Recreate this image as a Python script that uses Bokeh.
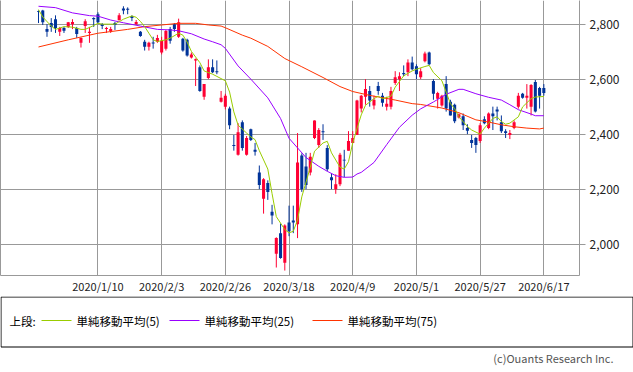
from bokeh.plotting import figure
from bokeh.models import (LinearAxis, FixedTicker, NumeralTickFormatter, Range1d,
                          ColumnDataSource)
from bokeh.embed import file_html
from bokeh.resources import INLINE
from bokeh.core.properties import value

# ---------------- data (daily candles, 2019/12 - 2020/6/17) ----------------
opens = [2848, 2850, 2782, 2804, 2818, 2772, 2786, 2790, 2800, 2786,
         2732, 2793, 2768, 2822, 2836, 2800, 2782, 2775, 2804, 2814,
         2857, 2856, 2829, 2800, 2772, 2736, 2718, 2733, 2736, 2697,
         2711, 2782, 2800, 2754, 2747, 2743, 2679, 2668, 2643, 2536,
         2604, 2643, 2629, 2518, 2500, 2493, 2361, 2325, 2443, 2325,
         2418, 2343, 2261, 2165, 2222, 2118, 1965, 2040, 1932, 2079,
         2086, 2072, 2322, 2282, 2261, 2386, 2361, 2411, 2350, 2243,
         2200, 2218, 2307, 2340, 2368, 2397, 2493, 2536, 2557, 2504,
         2575, 2540, 2500, 2500, 2586, 2600, 2622, 2625, 2661, 2647,
         2607, 2665, 2697, 2593, 2529, 2504, 2582, 2518, 2507, 2461,
         2465, 2422, 2379, 2386, 2375, 2454, 2422, 2475, 2490, 2443,
         2411, 2397, 2422, 2500, 2547, 2532, 2500, 2590, 2568, 2568]
highs = [2850, 2852, 2800, 2822, 2832, 2790, 2790, 2808, 2818, 2790,
         2752, 2818, 2790, 2825, 2843, 2804, 2790, 2790, 2808, 2840,
         2865, 2861, 2832, 2815, 2775, 2743, 2736, 2754, 2761, 2754,
         2779, 2790, 2804, 2820, 2750, 2747, 2697, 2675, 2650, 2582,
         2672, 2672, 2668, 2557, 2547, 2500, 2397, 2440, 2450, 2393,
         2420, 2368, 2286, 2240, 2232, 2143, 2025, 2075, 2072, 2140,
         2140, 2404, 2330, 2332, 2332, 2450, 2422, 2436, 2360, 2257,
         2254, 2332, 2343, 2411, 2411, 2525, 2543, 2600, 2575, 2540,
         2590, 2550, 2536, 2572, 2629, 2625, 2650, 2672, 2682, 2654,
         2640, 2700, 2700, 2600, 2554, 2543, 2611, 2525, 2511, 2475,
         2475, 2436, 2397, 2390, 2440, 2465, 2479, 2500, 2500, 2468,
         2418, 2415, 2450, 2550, 2550, 2582, 2582, 2597, 2572, 2582]
lows = [2804, 2797, 2754, 2772, 2768, 2757, 2768, 2786, 2782, 2750,
        2715, 2768, 2732, 2790, 2800, 2782, 2768, 2768, 2779, 2814,
        2836, 2836, 2811, 2797, 2754, 2704, 2704, 2711, 2732, 2690,
        2704, 2729, 2772, 2750, 2700, 2682, 2675, 2575, 2554, 2525,
        2600, 2622, 2618, 2515, 2490, 2418, 2340, 2322, 2340, 2322,
        2375, 2322, 2200, 2111, 2161, 2072, 1915, 1947, 1904, 2029,
        2040, 2022, 2190, 2200, 2250, 2382, 2350, 2379, 2265, 2200,
        2183, 2211, 2243, 2340, 2368, 2397, 2479, 2507, 2500, 2490,
        2543, 2500, 2486, 2490, 2579, 2557, 2611, 2611, 2632, 2600,
        2600, 2661, 2650, 2525, 2493, 2500, 2482, 2468, 2440, 2457,
        2415, 2400, 2350, 2332, 2368, 2436, 2418, 2415, 2450, 2404,
        2386, 2382, 2418, 2493, 2529, 2493, 2468, 2479, 2493, 2540]
closes = [2845, 2807, 2772, 2790, 2786, 2786, 2776, 2807, 2808, 2764,
          2750, 2811, 2772, 2818, 2807, 2793, 2786, 2782, 2797, 2832,
          2850, 2852, 2822, 2808, 2757, 2718, 2732, 2730, 2750, 2740,
          2775, 2740, 2782, 2807, 2704, 2686, 2690, 2672, 2557, 2582,
          2643, 2625, 2625, 2532, 2540, 2432, 2357, 2407, 2350, 2386,
          2379, 2336, 2215, 2236, 2190, 2104, 2022, 1950, 2068, 2047,
          2079, 2297, 2200, 2215, 2318, 2450, 2415, 2407, 2272, 2232,
          2218, 2325, 2304, 2375, 2386, 2522, 2540, 2564, 2522, 2525,
          2557, 2514, 2511, 2557, 2607, 2611, 2618, 2661, 2636, 2618,
          2629, 2693, 2654, 2547, 2550, 2540, 2493, 2468, 2447, 2472,
          2432, 2412, 2368, 2361, 2432, 2440, 2475, 2465, 2482, 2411,
          2404, 2404, 2443, 2540, 2532, 2540, 2579, 2482, 2540, 2550]

# tick dates (candle index -> label)
tick_pos = [14, 29, 44, 59, 74, 89, 104, 119]
tick_labels = ["2020/1/10", "2020/2/3", "2020/2/26", "2020/3/18",
               "2020/4/9", "2020/5/1", "2020/5/27", "2020/6/17"]
y_ticks = [2000, 2200, 2400, 2600, 2800]

# moving averages (candle index, value)
sma5_idx = [0, 1, 3, 4, 6, 8, 10, 11, 13, 14, 15, 17, 18, 19, 20, 22, 23, 24,
            25, 26, 27, 28, 30, 31, 33, 34, 35, 36, 38, 39, 41, 42, 44, 45, 46,
            47, 49, 50, 51, 52, 54, 55, 56, 58, 59, 60, 61, 62, 64, 65, 67, 68,
            69, 71, 72, 73, 74, 75, 76, 77, 79, 80, 81, 83, 84, 86, 88, 89, 91,
            92, 93, 95, 96, 97, 98, 99, 101, 102, 104, 105, 107, 108, 109, 110,
            111, 113, 114, 116, 117, 119]
sma5_val = [2853, 2826, 2793, 2781, 2791, 2789, 2781, 2781, 2795, 2803, 2800,
            2800, 2800, 2809, 2818, 2830, 2825, 2810, 2791, 2767, 2743, 2737,
            2743, 2749, 2767, 2760, 2735, 2701, 2660, 2630, 2618, 2610, 2594,
            2553, 2481, 2433, 2404, 2390, 2380, 2340, 2273, 2184, 2100, 2053,
            2041, 2047, 2088, 2172, 2279, 2338, 2368, 2374, 2332, 2280, 2273,
            2300, 2368, 2420, 2470, 2505, 2529, 2538, 2529, 2538, 2571, 2612,
            2630, 2636, 2646, 2650, 2624, 2594, 2553, 2511, 2493, 2463, 2428,
            2415, 2400, 2422, 2457, 2463, 2446, 2436, 2440, 2463, 2499, 2529,
            2535, 2537]
sma25_idx = [0, 4, 8, 12, 14, 17, 20, 24, 28, 31, 33, 36, 39, 41, 43, 44, 47,
             50, 54, 57, 59, 61, 63, 66, 68, 70, 72, 74, 75, 76, 79, 82, 85, 88,
             90, 93, 96, 99, 100, 103, 106, 109, 111, 113, 116, 117, 119]
sma25_val = [2865, 2860, 2841, 2831, 2829, 2815, 2805, 2793, 2781, 2779, 2776,
             2765, 2746, 2736, 2725, 2712, 2648, 2600, 2532, 2457, 2385, 2350,
             2315, 2283, 2265, 2249, 2243, 2244, 2255, 2261, 2297, 2362, 2425,
             2469, 2492, 2517, 2545, 2563, 2563, 2547, 2534, 2524, 2507, 2489,
             2473, 2467, 2467]
sma75_idx = [0, 7, 14, 21, 25, 29, 33, 37, 40, 43, 44, 48, 50, 54, 58, 62, 67,
             71, 74, 78, 84, 88, 90, 95, 99, 103, 106, 109, 112, 115, 118, 119]
sma75_val = [2717, 2743, 2767, 2781, 2791, 2797, 2803, 2803, 2797, 2793, 2787,
             2760, 2749, 2719, 2675, 2645, 2606, 2573, 2555, 2541, 2524, 2511,
             2508, 2495, 2478, 2452, 2444, 2434, 2427, 2422, 2419, 2422]

legend_title = "上段:"
legend_names = ["単純移動平均(5)", "単純移動平均(25)", "単純移動平均(75)"]
copyright_text = "(c)Ouants Research Inc."

# ---------------- styling ----------------
UP = "#ff0033"
DOWN = "#003399"
GRID = "#999999"
FONT = "Noto Sans CJK JP"
SMA_COLORS = ["#99cc00", "#9900ff", "#ff3300"]

idx = list(range(len(opens)))
is_up = [c >= o for o, c in zip(opens, closes)]
src = ColumnDataSource(dict(
    x=idx,
    top=[max(o, c) for o, c in zip(opens, closes)],
    bottom=[min(o, c) for o, c in zip(opens, closes)],
    high=highs, low=lows,
    color=[UP if u else DOWN for u in is_up],
))

p = figure(width=633, height=296, output_backend="svg", toolbar_location=None,
           x_range=Range1d(-8.95, 127.4), y_range=Range1d(1886, 2886),
           min_border_left=0, min_border_top=0, min_border_right=54,
           min_border_bottom=16, y_axis_location="right")
p.styles = {"position": "absolute", "left": "0px", "top": "0px"}
p.background_fill_color = "white"
p.border_fill_color = "white"
p.outline_line_color = None

# x axis
p.xaxis.ticker = FixedTicker(ticks=tick_pos)
p.xaxis.major_label_overrides = {t: l for t, l in zip(tick_pos, tick_labels)}
p.xaxis.axis_line_color = GRID
p.xaxis.major_tick_line_color = None
p.xaxis.minor_tick_line_color = None
p.xaxis.major_tick_out = 0
p.xaxis.major_tick_in = 0
p.xaxis.minor_tick_out = 0
p.xaxis.major_label_standoff = 2
p.xaxis.major_label_text_line_height = 1.0
p.xaxis.major_label_text_font = FONT
p.xaxis.major_label_text_font_size = "11px"
p.xaxis.major_label_text_color = "#222222"

# y axis (right)
p.yaxis.ticker = FixedTicker(ticks=y_ticks)
p.yaxis.formatter = NumeralTickFormatter(format="0,0")
p.yaxis.axis_line_color = GRID
p.yaxis.major_tick_line_color = GRID
p.yaxis.minor_tick_line_color = None
p.yaxis.major_tick_out = 6
p.yaxis.major_tick_in = 0
p.yaxis.major_label_standoff = 4
p.yaxis.major_label_text_font = FONT
p.yaxis.major_label_text_font_size = "12px"
p.yaxis.major_label_text_color = "#222222"

# left border line
left_axis = LinearAxis(ticker=FixedTicker(ticks=[]), axis_line_color=GRID,
                       major_tick_out=0, major_tick_in=0, minor_tick_out=0,
                       minor_tick_in=0, major_label_standoff=0,
                       major_label_text_font_size="0px")
p.add_layout(left_axis, "left")

p.xgrid.grid_line_color = GRID
p.ygrid.grid_line_color = GRID
p.xgrid.grid_line_width = 1
p.ygrid.grid_line_width = 1

# candles
p.segment(x0="x", y0="low", x1="x", y1="high", line_color="color",
          line_width=1, source=src)
p.vbar(x="x", width=0.72, top="top", bottom="bottom", fill_color="color",
       line_color=None, source=src)

# moving averages
p.line(sma75_idx, sma75_val, line_color=SMA_COLORS[2], line_width=1)
p.line(sma25_idx, sma25_val, line_color=SMA_COLORS[1], line_width=1)
p.line(sma5_idx, sma5_val, line_color=SMA_COLORS[0], line_width=1)

# ---------------- legend / footer panel ----------------
q = figure(width=633, height=76, output_backend="svg", toolbar_location=None,
           x_range=Range1d(0, 633), y_range=Range1d(76, 0),
           min_border=0, x_axis_type=None, y_axis_type=None)
q.styles = {"position": "absolute", "left": "0px", "top": "296px"}
q.outline_line_color = None
q.background_fill_color = "white"
q.border_fill_color = "white"
q.xgrid.visible = False
q.ygrid.visible = False

q.quad(left=[0.5], right=[632.5], top=[0.5], bottom=[50.5], fill_color=None,
       line_color="black", line_width=1)

q.text(x=[9], y=[24], text=[legend_title], text_font=value(FONT),
       text_font_size="11.5px", text_baseline="middle", text_color="black")
legend_x = [41, 169, 312]
for lx, name, col in zip(legend_x, legend_names, SMA_COLORS):
    q.segment(x0=[lx], y0=[24], x1=[lx + 30], y1=[24], line_color=col,
              line_width=1)
    q.text(x=[lx + 35], y=[24], text=[name], text_font=value(FONT),
           text_font_size="11.5px", text_baseline="middle", text_color="black")

q.text(x=[613], y=[61], text=[copyright_text],
       text_font=value(FONT), text_font_size="11px", text_align="right",
       text_baseline="middle", text_color="#555555")

with open("out.html", "w") as f:
    f.write(file_html((p, q), INLINE))
